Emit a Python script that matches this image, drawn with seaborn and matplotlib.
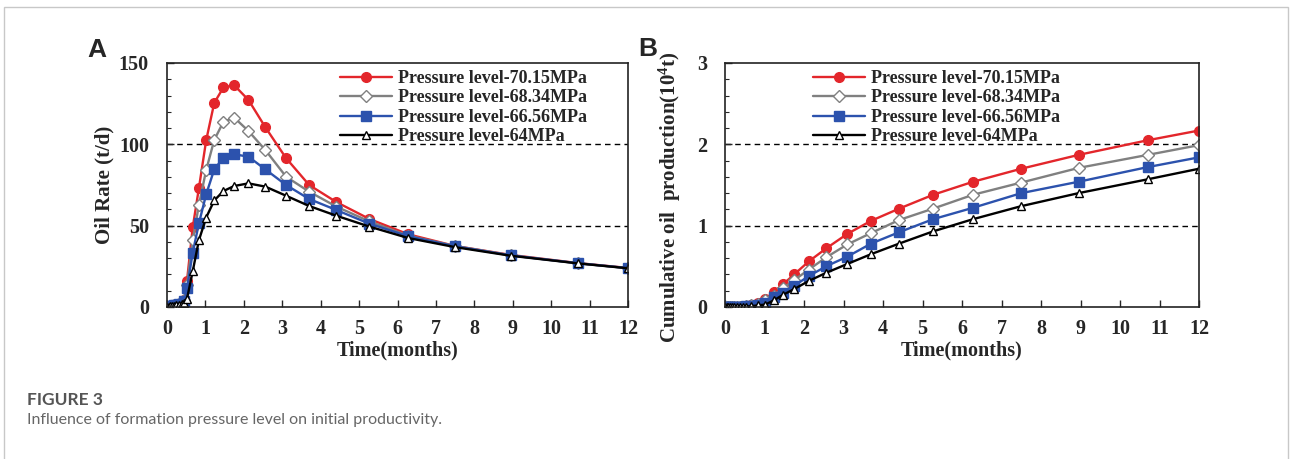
import matplotlib
matplotlib.use("Agg")
import matplotlib.pyplot as plt
import seaborn as sns
from matplotlib.ticker import MultipleLocator
from matplotlib.patches import Rectangle

# time steps of the simulation output (months)
time_months = [0.0, 0.04, 0.08, 0.13, 0.18, 0.24, 0.31, 0.39, 0.45, 0.52,
               0.67, 0.83, 1.02, 1.23, 1.47, 1.75, 2.12, 2.56, 3.10, 3.70,
               4.41, 5.27, 6.28, 7.50, 8.95, 10.70, 12.0]

labels = ["Pressure level-70.15MPa", "Pressure level-68.34MPa",
          "Pressure level-66.56MPa", "Pressure level-64MPa"]

# panel A: oil rate (t/d)
rate_7015 = [0, 0.3, 0.6, 0.9, 1.2, 1.5, 1.9, 2.4, 4.5, 16,
             49, 73, 102.5, 125.5, 135, 136.3, 127.3, 110.5, 91.5, 75,
             64.5, 54.1, 44.7, 37.5, 32, 27, 24]
rate_6834 = [0, 0.3, 0.5, 0.8, 1.1, 1.4, 1.8, 2.3, 4, 13.5,
             41, 62.7, 84.2, 102.7, 113.9, 116.4, 108.2, 96.5, 80.1, 70.9,
             61.7, 52.6, 43.8, 37.5, 31.8, 26.9, 23.9]
rate_6656 = [0, 0.3, 0.5, 0.7, 1.0, 1.3, 1.7, 2.1, 3.5, 11.5,
             33.4, 51.4, 69.3, 84.6, 91.8, 93.9, 92.4, 84.6, 75, 66.4,
             59.6, 51.2, 43.5, 37.3, 31.7, 26.9, 23.9]
rate_64 = [0, 0.2, 0.4, 0.6, 0.8, 1.0, 1.3, 1.6, 2.5, 5,
           22, 41, 55, 65.5, 71.3, 74.4, 76, 74, 68.4, 62.1,
           56.1, 49.4, 42.4, 36.8, 31.5, 26.8, 23.8]

# panel B: cumulative oil production (10^4 t)
cum_7015 = [0, 0, 0, 0, 0, 0, 0.002, 0.004, 0.006, 0.01,
            0.025, 0.05, 0.10, 0.18, 0.28, 0.40, 0.56, 0.72, 0.90, 1.06,
            1.21, 1.38, 1.54, 1.70, 1.87, 2.05, 2.17]
cum_6834 = [0, 0, 0, 0, 0, 0, 0.002, 0.004, 0.005, 0.008,
            0.02, 0.04, 0.08, 0.14, 0.23, 0.33, 0.46, 0.61, 0.77, 0.91,
            1.07, 1.21, 1.38, 1.53, 1.71, 1.87, 1.99]
cum_6656 = [0, 0, 0, 0, 0, 0, 0.002, 0.003, 0.004, 0.007,
            0.015, 0.03, 0.05, 0.12, 0.17, 0.26, 0.38, 0.50, 0.62, 0.78,
            0.92, 1.08, 1.22, 1.40, 1.54, 1.72, 1.84]
cum_64 = [0, 0, 0, 0, 0, 0, 0.001, 0.002, 0.003, 0.005,
          0.01, 0.02, 0.03, 0.08, 0.15, 0.22, 0.32, 0.42, 0.53, 0.65,
          0.78, 0.93, 1.08, 1.24, 1.40, 1.57, 1.70]

styles = [
    dict(color="#e3262b", marker="o", markerfacecolor="#e3262b", markeredgecolor="#e3262b", markersize=7),
    dict(color="#808080", marker="D", markerfacecolor="white", markeredgecolor="#808080", markersize=6),
    dict(color="#2c52ad", marker="s", markerfacecolor="#2c52ad", markeredgecolor="#2c52ad", markersize=6.5),
    dict(color="black", marker="^", markerfacecolor="white", markeredgecolor="black", markersize=6),
]

sns.set_style("ticks")
plt.rcParams["font.family"] = ["Liberation Serif", "DejaVu Serif"]
plt.rcParams["font.weight"] = "bold"
plt.rcParams["mathtext.fontset"] = "custom"
plt.rcParams["mathtext.rm"] = "Liberation Serif:bold"
plt.rcParams["mathtext.bf"] = "Liberation Serif:bold"
plt.rcParams["mathtext.default"] = "bf"

fig = plt.figure(figsize=(12.9, 4.59), dpi=100)
axA = fig.add_axes([167 / 1290, 1 - 307 / 459, 461 / 1290, 244 / 459])
axB = fig.add_axes([725 / 1290, 1 - 307 / 459, 474 / 1290, 244 / 459])


def draw(ax, series, ylim, major, minor, ylabel, legend_x, ylabel_xy):
    for vals, lab, st in zip(series, labels, styles):
        sns.lineplot(x=time_months, y=vals, ax=ax, label=lab, linewidth=1.7,
                     markeredgewidth=1.0, **st)
    ax.set_xlim(0, 12)
    ax.set_ylim(*ylim)
    ax.xaxis.set_major_locator(MultipleLocator(1))
    ax.yaxis.set_major_locator(MultipleLocator(major))
    ax.yaxis.set_minor_locator(MultipleLocator(minor))
    ax.tick_params(which="major", direction="in", length=5, width=1,
                   labelsize=14.5, top=False, right=False)
    ax.tick_params(axis="x", pad=9)
    ax.tick_params(axis="y", pad=13)
    ax.tick_params(which="minor", direction="in", length=3, width=0.8,
                   top=False, right=False)
    for t in ax.get_xticklabels() + ax.get_yticklabels():
        t.set_fontweight("bold")
    for y in (major, 2 * major):
        ax.axhline(y, color="black", linestyle=(0, (4, 3)), linewidth=1.0, zorder=0)
    for s in ax.spines.values():
        s.set_color("#222222")
        s.set_linewidth(1.2)
    ax.set_xlabel("Time(months)", fontsize=14.5, fontweight="bold", labelpad=1)
    ax.set_ylabel(ylabel, fontsize=15, fontweight="bold")
    ax.yaxis.set_label_coords(*ylabel_xy)
    ax.legend(loc="upper left", bbox_to_anchor=(legend_x, 0.972), frameon=False,
              prop=dict(family="Liberation Serif", weight="bold", size=13),
              handlelength=2.9, handletextpad=0.3, labelspacing=0.14,
              borderpad=0, borderaxespad=0)


draw(axA, [rate_7015, rate_6834, rate_6656, rate_64], (0, 150), 50, 10,
     "Oil Rate (t/d)", (340 - 167) / 461, (-0.115, 0.5))
draw(axB, [cum_7015, cum_6834, cum_6656, cum_64], (0, 3), 1, 0.2,
     "Cumulative oil  production(10$^{4}$t)", (813 - 725) / 474, (-0.088, 0.45))

fig.text(97 / 1290, 1 - 50 / 459, "A", ha="center", va="center", fontsize=19,
         fontweight="bold", family="Liberation Sans")
fig.text(648 / 1290, 1 - 49 / 459, "B", ha="center", va="center", fontsize=19,
         fontweight="bold", family="Liberation Sans")

fig.text(27 / 1290, 1 - 405 / 459, "FIGURE 3", ha="left", va="baseline",
         fontsize=12.5, color="#555555", family="Lato", fontweight="bold")
fig.text(27 / 1290, 1 - 424 / 459,
         "Influence of formation pressure level on initial productivity.",
         ha="left", va="baseline", fontsize=11.5, color="#666666",
         family="Lato", fontweight="normal")

fig.add_artist(Rectangle((4 / 1290, -0.05), 1284 / 1290, 1.05 - 7 / 459,
                         transform=fig.transFigure, fill=False,
                         edgecolor="#c8c8c8", linewidth=1.0))

fig.savefig("out.png", dpi=100)
